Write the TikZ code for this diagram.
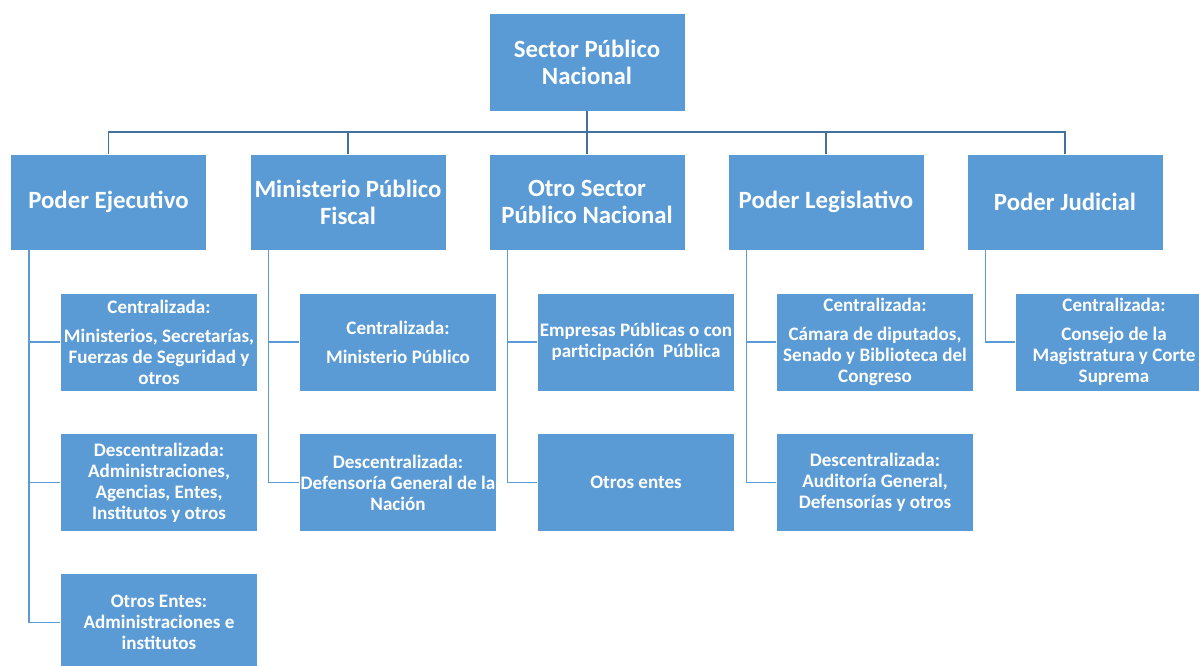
\documentclass[tikz,border=0pt]{standalone}
\usepackage{fontspec}
\setmainfont{Carlito}
\definecolor{boxblue}{HTML}{5B9BD5}
\definecolor{linedark}{HTML}{41719C}
\definecolor{lineblue}{HTML}{5B9BD5}
\begin{document}
\begin{tikzpicture}[x=0.75pt,y=-0.75pt,
  base/.style={rectangle, fill=boxblue, draw=white, line width=0.6pt, inner sep=0pt,
    text=white, font=\bfseries, align=center},
  topbox/.style={base, minimum width=147pt, minimum height=73.5pt, font=\bfseries\fontsize{18.6}{20.25}\selectfont},
  childbox/.style={base, minimum width=148pt, minimum height=73.5pt, font=\bfseries\fontsize{14.3}{15.75}\selectfont},
  busline/.style={draw=linedark, line width=1pt},
  subline/.style={draw=lineblue, line width=1pt}]
\useasboundingbox (0,0) rectangle (1199,666);
\clip (0,0) rectangle (1199,666);

% top
\node[topbox] (top) at (587,62) {Sector Público\\Nacional};
% level 1
\node[topbox, minimum height=72pt] (b1) at (108.5,202) {Poder Ejecutivo};
\node[topbox, minimum height=72pt] (b2) at (348,202) {Ministerio Público\\Fiscal};
\node[topbox, minimum height=72pt] (b3) at (587,202) {Otro Sector\\Público Nacional};
\node[topbox, minimum height=72pt] (b4) at (826,202) {Poder Legislativo};
\node[topbox, minimum height=72pt] (b5) at (1065,202) {Poder Judicial};

% children
\node[childbox] (c11) at (159,342) {Centralizada:\\[6pt]Ministerios, Secretarías,\\Fuerzas de Seguridad y\\otros};
\node[childbox] (c12) at (159,482.5) {Descentralizada:\\Administraciones,\\Agencias, Entes,\\Institutos y otros};
\node[childbox] (c13) at (159,622.5) {Otros Entes:\\Administraciones e\\institutos};

\node[childbox] (c21) at (398,342) {Centralizada:\\[6pt]Ministerio Público};
\node[childbox] (c22) at (398,482.5) {Descentralizada:\\Defensoría General de la\\Nación};

\node[childbox] (c31) at (636,342) {Empresas Públicas o con\\participación\ \ Pública};
\node[childbox] (c32) at (636,482.5) {Otros entes};

\node[childbox] (c41) at (875,342) {Centralizada:\\[6pt]Cámara de diputados,\\Senado y Biblioteca del\\Congreso};
\node[childbox] (c42) at (875,482.5) {Descentralizada:\\Auditoría General,\\Defensorías y otros};

\node[childbox] (c51) at (1114,342) {Centralizada:\\[6pt]Consejo de la\\Magistratura y Corte\\Suprema};

% bus connectors
\coordinate (bus) at (587,132);
\draw[busline] (top.south) -- (bus);
\foreach \b in {b1,b2,b3,b4,b5} {
  \draw[busline] (bus) -| (\b.north);
}

% child connectors
\draw[subline] ([xshift=14.25pt]b1.south west) |- (c11.west);
\draw[subline] ([xshift=14.25pt]b1.south west) |- (c12.west);
\draw[subline] ([xshift=14.25pt]b1.south west) |- (c13.west);
\draw[subline] ([xshift=14.25pt]b2.south west) |- (c21.west);
\draw[subline] ([xshift=14.25pt]b2.south west) |- (c22.west);
\draw[subline] ([xshift=14.25pt]b3.south west) |- (c31.west);
\draw[subline] ([xshift=14.25pt]b3.south west) |- (c32.west);
\draw[subline] ([xshift=14.25pt]b4.south west) |- (c41.west);
\draw[subline] ([xshift=14.25pt]b4.south west) |- (c42.west);
\draw[subline] ([xshift=14.25pt]b5.south west) |- (c51.west);
\end{tikzpicture}
\end{document}
